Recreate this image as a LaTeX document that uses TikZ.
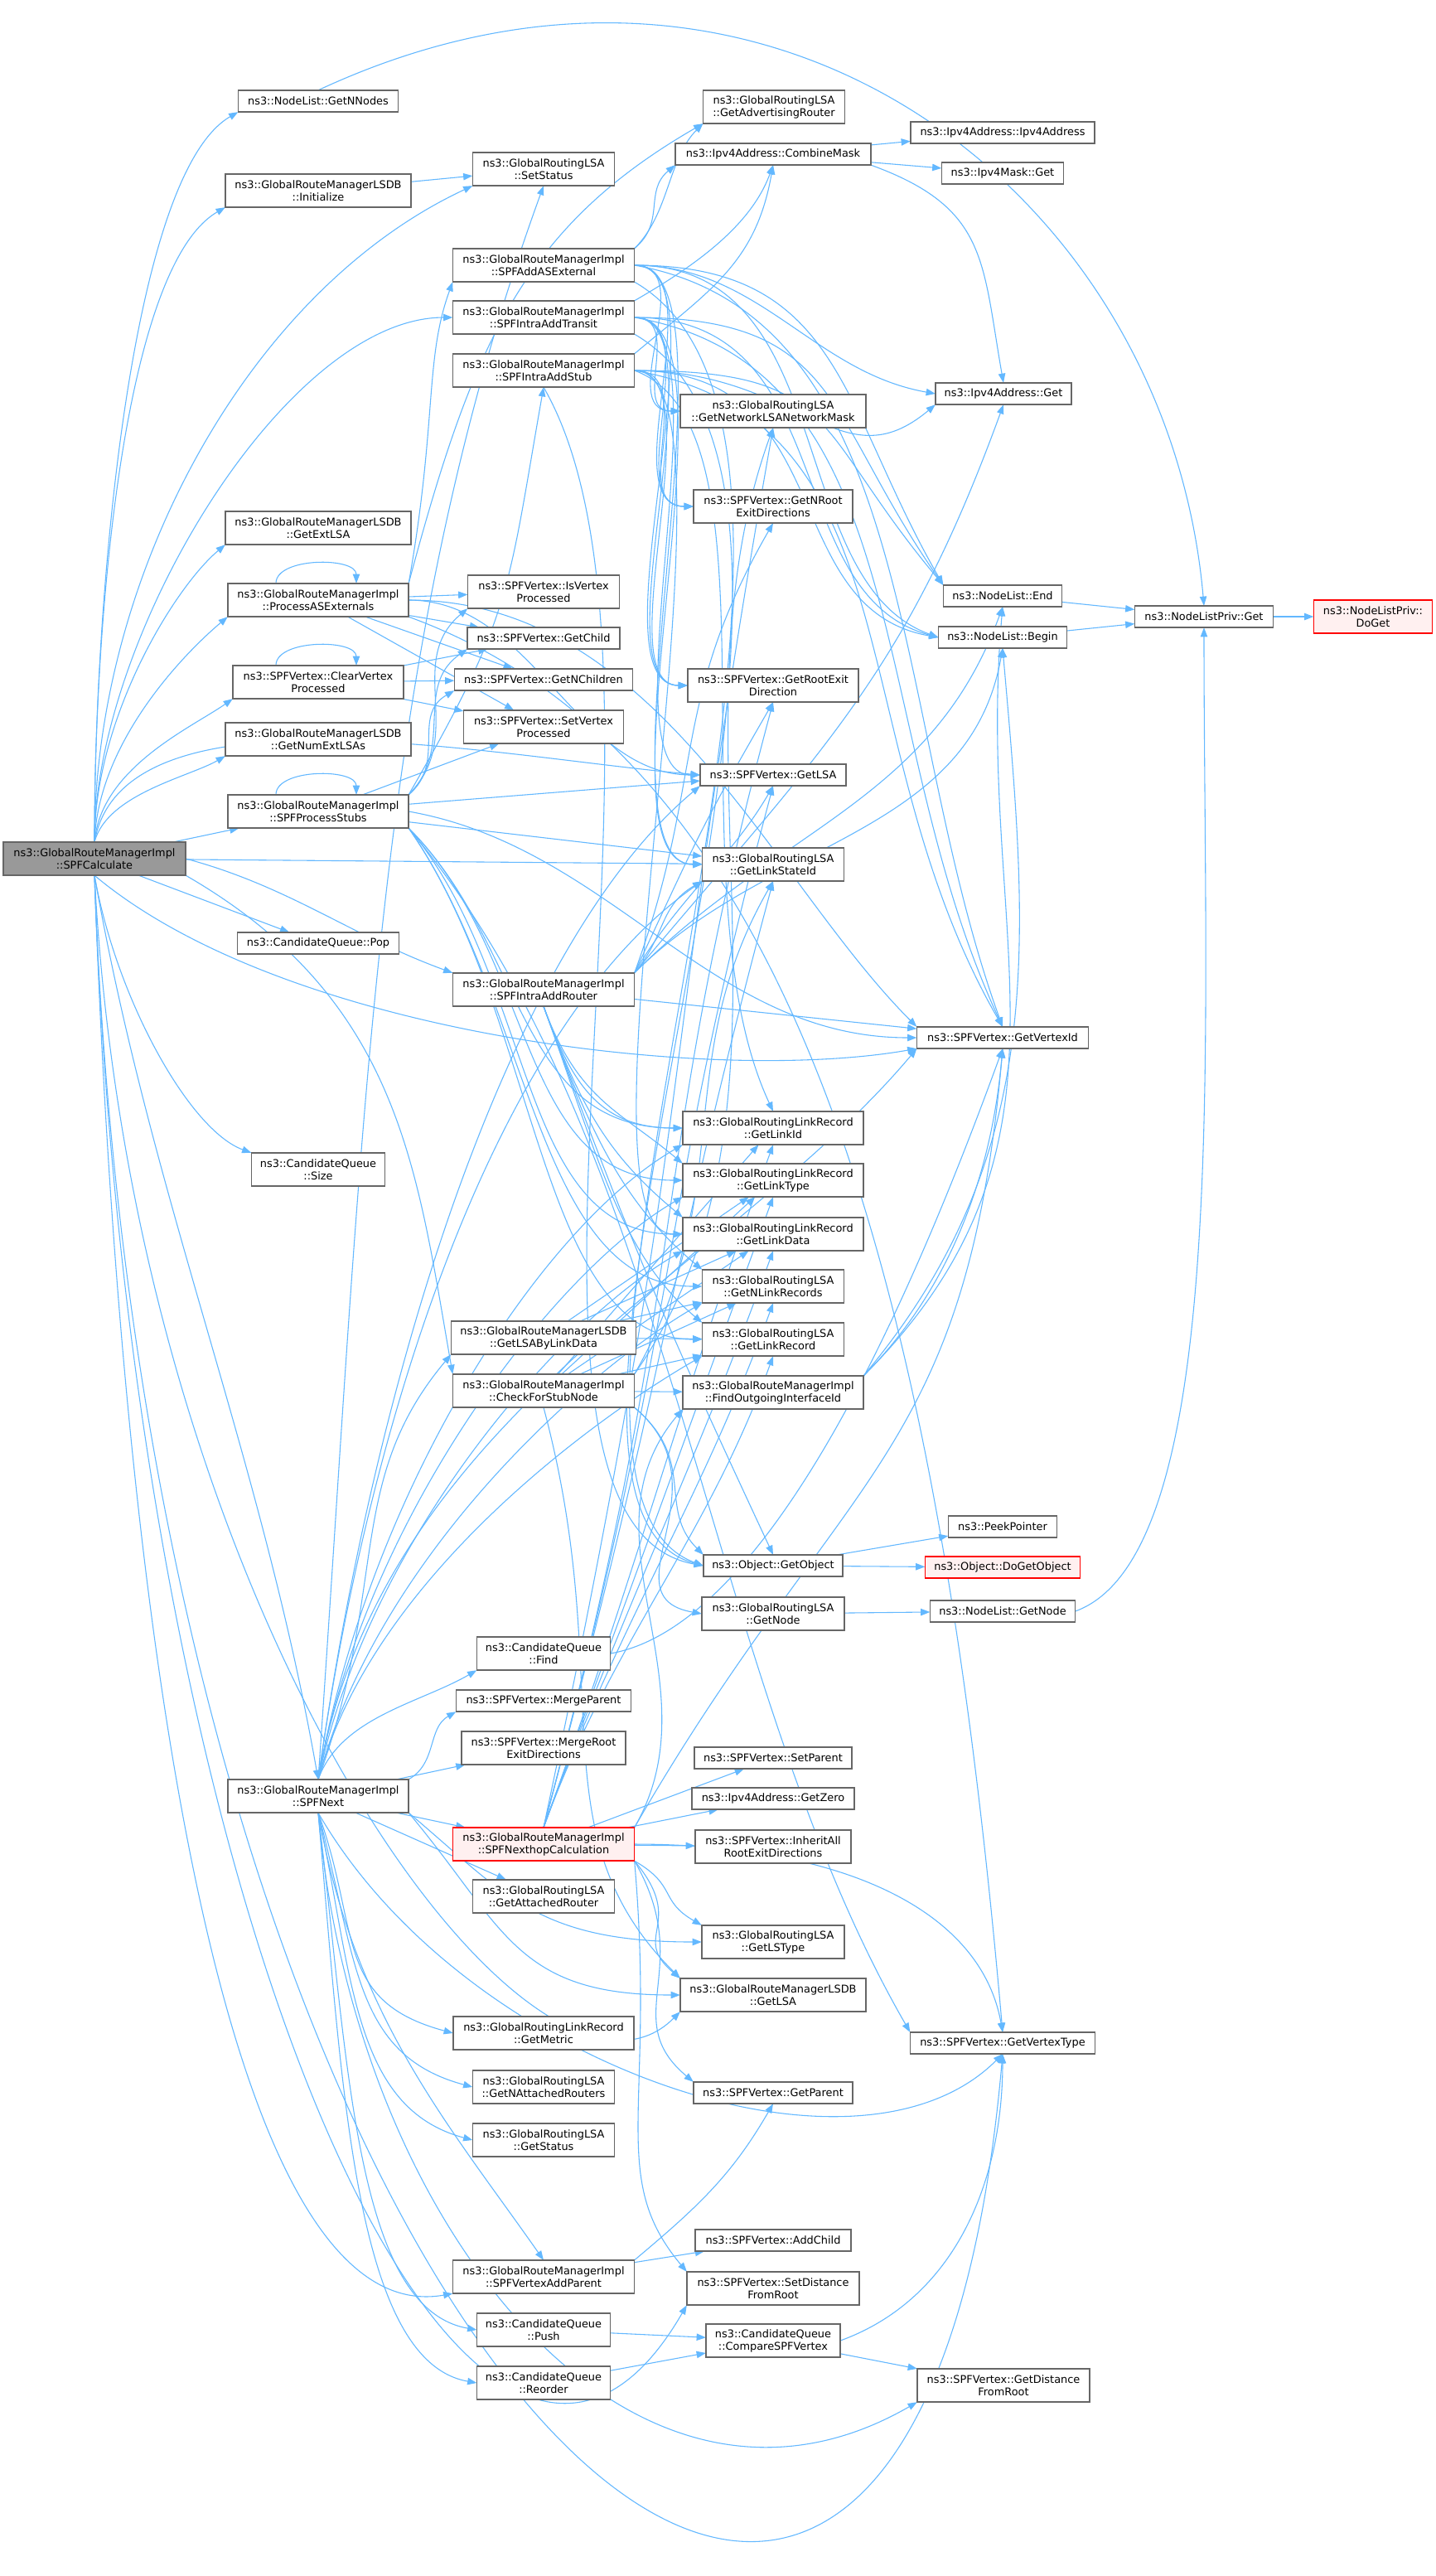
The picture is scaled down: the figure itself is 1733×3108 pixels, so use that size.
\documentclass[tikz,border=0pt]{standalone}
\usepackage{fontspec}
\setmainfont{DejaVu Sans}
\usetikzlibrary{arrows.meta,calc}
\definecolor{edgec}{HTML}{63B8FF}
\definecolor{boxc}{HTML}{666666}
\definecolor{rootgray}{HTML}{999999}
\definecolor{hlred}{HTML}{FF0000}
\definecolor{hlfill}{HTML}{FFF0F0}
\pgfdeclarelayer{bg}
\pgfsetlayers{bg,main}
\newcommand\nfs{\fontsize{12.9pt}{15pt}\selectfont}
\newcommand\cv[4]{\draw[ed] (#1) .. controls ($(#1)+(#2)$) and ($(#3)+(#4)$) .. (#3);}
\newcommand\sloop[1]{\draw[ed] ($(#1.north)+(-51,0)$) .. controls ($(#1.north)+(-51,32)$) and ($(#1.north)+(46,32)$) .. ($(#1.north)+(46,0)$);}
\tikzset{
  box/.style={draw=boxc, fill=white, line width=0.34pt, inner sep=0pt, align=center, font=\nfs, text=black},
  bx1/.style={box, minimum height=26pt},
  bx2/.style={box, minimum height=40pt},
  hl/.style={draw=hlred, fill=hlfill},
  rootn/.style={fill=rootgray, draw=boxc},
  ed/.style={draw=edgec, line width=0.27pt, -{Triangle[length=2.8pt,width=2.1pt]}}
}
\begin{document}
\begin{tikzpicture}[x=1pt,y=1pt,scale=0.25,every node/.style={transform shape}]
\useasboundingbox (0,0) rectangle (1733,-3108);
% column 1
\node[bx2,rootn,minimum width=220pt] (root0) at (114,-1036) {ns3::GlobalRouteManagerImpl\\::SPFCalculate};
% column 2
\node[bx1,minimum width=193pt] (nnodes) at (384,-122) {ns3::NodeList::GetNNodes};
\node[bx2,minimum width=224pt] (init) at (384,-230) {ns3::GlobalRouteManagerLSDB\\::Initialize};
\node[bx2,minimum width=224pt] (extlsa) at (384,-637) {ns3::GlobalRouteManagerLSDB\\::GetExtLSA};
\node[bx2,minimum width=218pt] (procase) at (384,-724) {ns3::GlobalRouteManagerImpl\\::ProcessASExternals};
\node[bx2,minimum width=206pt] (clearvp) at (384,-823) {ns3::SPFVertex::ClearVertex\\Processed};
\node[bx2,minimum width=224pt] (numext) at (384,-892) {ns3::GlobalRouteManagerLSDB\\::GetNumExtLSAs};
\node[bx2,minimum width=218pt] (stubs) at (384,-979) {ns3::GlobalRouteManagerImpl\\::SPFProcessStubs};
\node[bx1,minimum width=195pt] (pop) at (384,-1138) {ns3::CandidateQueue::Pop};
\node[bx2,minimum width=161pt] (size) at (384,-1411) {ns3::CandidateQueue\\::Size};
\node[bx2,minimum width=218pt] (spfnxt) at (384,-2167) {ns3::GlobalRouteManagerImpl\\::SPFNext};
% column 3
\node[bx2,minimum width=171pt] (setstatus) at (656,-204) {ns3::GlobalRoutingLSA\\::SetStatus};
\node[bx2,minimum width=219pt] (addase) at (656,-320) {ns3::GlobalRouteManagerImpl\\::SPFAddASExternal};
\node[bx2,minimum width=219pt] (transit) at (656,-383) {ns3::GlobalRouteManagerImpl\\::SPFIntraAddTransit};
\node[bx2,minimum width=219pt] (stub) at (656,-447) {ns3::GlobalRouteManagerImpl\\::SPFIntraAddStub};
\node[bx2,minimum width=183pt] (isvp) at (656,-714) {ns3::SPFVertex::IsVertex\\Processed};
\node[bx1,minimum width=184pt] (getchild) at (656,-770) {ns3::SPFVertex::GetChild};
\node[bx1,minimum width=215pt] (nchildren) at (656,-820) {ns3::SPFVertex::GetNChildren};
\node[bx2,minimum width=193pt] (setvp) at (656,-877) {ns3::SPFVertex::SetVertex\\Processed};
\node[bx2,minimum width=219pt] (router) at (656,-1194) {ns3::GlobalRouteManagerImpl\\::SPFIntraAddRouter};
\node[bx2,minimum width=223pt] (lsabld) at (656,-1614) {ns3::GlobalRouteManagerLSDB\\::GetLSAByLinkData};
\node[bx2,minimum width=219pt] (checkstub) at (656,-1678) {ns3::GlobalRouteManagerImpl\\::CheckForStubNode};
\node[bx2,minimum width=161pt] (find) at (656,-1995) {ns3::CandidateQueue\\::Find};
\node[bx1,minimum width=211pt] (mergeparent) at (656,-2052) {ns3::SPFVertex::MergeParent};
\node[bx2,minimum width=198pt] (mergeroot) at (656,-2109) {ns3::SPFVertex::MergeRoot\\ExitDirections};
\node[bx2,hl,minimum width=219pt] (nexthop) at (656,-2225) {ns3::GlobalRouteManagerImpl\\::SPFNexthopCalculation};
\node[bx2,minimum width=171pt] (attached) at (656,-2288) {ns3::GlobalRoutingLSA\\::GetAttachedRouter};
\node[bx2,minimum width=218pt] (metric) at (656,-2453) {ns3::GlobalRoutingLinkRecord\\::GetMetric};
\node[bx2,minimum width=171pt] (nattached) at (656,-2518) {ns3::GlobalRoutingLSA\\::GetNAttachedRouters};
\node[bx2,minimum width=171pt] (getstatus) at (656,-2582) {ns3::GlobalRoutingLSA\\::GetStatus};
\node[bx2,minimum width=219pt] (addparent) at (656,-2747) {ns3::GlobalRouteManagerImpl\\::SPFVertexAddParent};
\node[bx2,minimum width=161pt] (push) at (656,-2811) {ns3::CandidateQueue\\::Push};
\node[bx2,minimum width=161pt] (reorder) at (656,-2875) {ns3::CandidateQueue\\::Reorder};
% column 4
\node[bx2,minimum width=171pt] (advrouter) at (934,-129) {ns3::GlobalRoutingLSA\\::GetAdvertisingRouter};
\node[bx1,minimum width=236pt] (combine) at (933,-186) {ns3::Ipv4Address::CombineMask};
\node[bx2,minimum width=224pt] (netmask) at (933,-496) {ns3::GlobalRoutingLSA\\::GetNetworkLSANetworkMask};
\node[bx2,minimum width=192pt] (nroot) at (933,-611) {ns3::SPFVertex::GetNRoot\\ExitDirections};
\node[bx2,minimum width=206pt] (rootexit) at (933,-827) {ns3::SPFVertex::GetRootExit\\Direction};
\node[bx1,minimum width=176pt] (getlsa) at (933,-935) {ns3::SPFVertex::GetLSA};
\node[bx2,minimum width=171pt] (lsid) at (933,-1043) {ns3::GlobalRoutingLSA\\::GetLinkStateId};
\node[bx2,minimum width=218pt] (linkid) at (933,-1361) {ns3::GlobalRoutingLinkRecord\\::GetLinkId};
\node[bx2,minimum width=218pt] (linktype) at (933,-1424) {ns3::GlobalRoutingLinkRecord\\::GetLinkType};
\node[bx2,minimum width=218pt] (linkdata) at (933,-1489) {ns3::GlobalRoutingLinkRecord\\::GetLinkData};
\node[bx2,minimum width=171pt] (nlinkrec) at (933,-1552) {ns3::GlobalRoutingLSA\\::GetNLinkRecords};
\node[bx2,minimum width=171pt] (linkrec) at (933,-1616) {ns3::GlobalRoutingLSA\\::GetLinkRecord};
\node[bx2,minimum width=218pt] (findout) at (933,-1680) {ns3::GlobalRouteManagerImpl\\::FindOutgoingInterfaceId};
\node[bx1,minimum width=168pt] (getobject) at (933,-1889) {ns3::Object::GetObject};
\node[bx2,minimum width=172pt] (lsagetnode) at (933,-1947) {ns3::GlobalRoutingLSA\\::GetNode};
\node[bx1,minimum width=190pt] (setparent) at (933,-2121) {ns3::SPFVertex::SetParent};
\node[bx1,minimum width=196pt] (getzero) at (933,-2170) {ns3::Ipv4Address::GetZero};
\node[bx2,minimum width=188pt] (inherit) at (933,-2228) {ns3::SPFVertex::InheritAll\\RootExitDirections};
\node[bx2,minimum width=172pt] (lstype) at (933,-2343) {ns3::GlobalRoutingLSA\\::GetLSType};
\node[bx2,minimum width=224pt] (lsdbgetlsa) at (933,-2407) {ns3::GlobalRouteManagerLSDB\\::GetLSA};
\node[bx1,minimum width=192pt] (getparent) at (933,-2525) {ns3::SPFVertex::GetParent};
\node[bx1,minimum width=188pt] (addchild) at (933,-2703) {ns3::SPFVertex::AddChild};
\node[bx2,minimum width=208pt] (setdist) at (933,-2761) {ns3::SPFVertex::SetDistance\\FromRoot};
\node[bx2,minimum width=162pt] (compare) at (933,-2824) {ns3::CandidateQueue\\::CompareSPFVertex};
% column 5
\node[bx1,minimum width=222pt] (ipv4addr) at (1210,-160) {ns3::Ipv4Address::Ipv4Address};
\node[bx1,minimum width=147pt] (maskget) at (1210,-209) {ns3::Ipv4Mask::Get};
\node[bx1,minimum width=164pt] (addrget) at (1211,-475) {ns3::Ipv4Address::Get};
\node[bx1,minimum width=143pt] (nlend) at (1210,-719) {ns3::NodeList::End};
\node[bx1,minimum width=155pt] (nlbegin) at (1210,-769) {ns3::NodeList::Begin};
\node[bx1,minimum width=207pt] (vertexid) at (1210,-1252) {ns3::SPFVertex::GetVertexId};
\node[bx1,minimum width=131pt] (peek) at (1210,-1842) {ns3::PeekPointer};
\node[bx1,hl,minimum width=187pt] (dogetobj) at (1210,-1891) {ns3::Object::DoGetObject};
\node[bx1,minimum width=175pt] (nlgetnode) at (1210,-1944) {ns3::NodeList::GetNode};
\node[bx1,minimum width=223pt] (vtype) at (1210,-2465) {ns3::SPFVertex::GetVertexType};
\node[bx2,minimum width=208pt] (getdist) at (1211,-2878) {ns3::SPFVertex::GetDistance\\FromRoot};
% column 6, 7
\node[bx1,minimum width=167pt] (privget) at (1453,-744) {ns3::NodeListPriv::Get};
\node[bx2,hl,minimum width=143pt] (doget) at (1657,-744) {ns3::NodeListPriv::\\DoGet};

\begin{pgfonlayer}{bg}
\fill[white] (0,0) rectangle (1733,-3108);
% SPFCalculate
\cv{root0.north}{90:300}{nnodes.south west}{210:150}
\cv{root0.north}{90:280}{init.south west}{210:140}
\cv{root0.north}{90:320}{setstatus.south west}{205:300}
\cv{root0.north}{90:250}{transit.west}{180:200}
\cv{root0.north}{90:150}{extlsa.south west}{220:80}
\cv{root0.north}{88:120}{procase.south west}{220:70}
\cv{root0.north}{85:90}{clearvp.south west}{215:60}
\cv{root0.north}{75:60}{numext.south west}{210:50}
\draw[ed] (root0) -- (stubs);
\cv{root0.north}{80:200}{getlsa.west}{175:250}
\draw[ed] (root0) -- (lsid);
\cv{root0.east}{-15:130}{router.north west}{160:130}
\draw[ed] (root0) -- (pop);
\cv{root0.south}{-40:300}{vertexid.south west}{190:250}
\cv{root0.south}{-80:150}{size.north west}{160:80}
\cv{root0.south}{-80:400}{spfnxt.north}{100:400}
\cv{root0.south east}{-30:300}{checkstub.north west}{100:250}
\cv{root0.south}{-88:800}{addparent.south west}{190:300}
\cv{root0.south}{-88:1300}{setdist.south west}{240:500}
\cv{root0.south}{-88:1800}{vtype.south}{-95:1250}
\cv{root0.south}{-87:900}{lsdbgetlsa.south west}{225:250}
% Initialize, GetNNodes
\draw[ed] (init) -- (setstatus);
\cv{nnodes.north}{25:600}{privget.north}{95:500}
% ProcessASExternals
\sloop{procase}
\draw[ed] (procase) -- (isvp);
\draw[ed] (procase) -- (getchild);
\draw[ed] (procase) -- (nchildren);
\draw[ed] (procase) -- (setvp);
\cv{procase.north east}{80:200}{addase.south west}{250:100}
\cv{procase.north east}{75:300}{advrouter.south west}{210:250}
\cv{procase.east}{0:150}{getlsa.west}{180:150}
\cv{procase.east}{0:300}{vertexid.north west}{135:250}
\cv{procase.south east}{-20:500}{vtype.north}{95:900}
% ClearVertexProcessed
\sloop{clearvp}
\draw[ed] (clearvp) -- (getchild);
\draw[ed] (clearvp) -- (nchildren);
\draw[ed] (clearvp) -- (setvp);
% SPFProcessStubs
\sloop{stubs}
\cv{stubs.north east}{45:100}{isvp.south west}{220:100}
\cv{stubs.north east}{45:80}{getchild.south west}{215:80}
\cv{stubs.north east}{40:60}{nchildren.south west}{210:60}
\draw[ed] (stubs) -- (setvp);
\draw[ed] (stubs) -- (getlsa);
\draw[ed] (stubs) -- (lsid);
\cv{stubs.north east}{60:250}{stub.south}{-100:250}
\cv{stubs.south east}{-45:200}{linkid.west}{180:200}
\cv{stubs.south east}{-45:220}{linktype.west}{180:200}
\cv{stubs.south east}{-50:240}{linkdata.west}{180:200}
\cv{stubs.south east}{-55:260}{nlinkrec.west}{180:200}
\cv{stubs.south east}{-55:280}{linkrec.west}{180:200}
\cv{stubs.south east}{-50:500}{vtype.north west}{120:500}
\cv{stubs.east}{-10:250}{vertexid.west}{180:250}
% SPFAddASExternal
\cv{addase.north east}{45:60}{advrouter.south west}{225:60}
\cv{addase.north east}{40:50}{combine.south west}{220:50}
\cv{addase.east}{0:80}{netmask.west}{180:80}
\cv{addase.east}{0:100}{nroot.west}{180:100}
\cv{addase.east}{0:120}{rootexit.west}{180:120}
\cv{addase.east}{0:140}{lsid.west}{180:140}
\cv{addase.east}{0:250}{nlend.north west}{120:250}
\cv{addase.east}{0:250}{nlbegin.west}{160:200}
\cv{addase.east}{-10:350}{vertexid.north}{110:400}
\cv{addase.south east}{-30:400}{getobject.west}{160:300}
\cv{addase.east}{0:150}{addrget.west}{170:150}
% SPFIntraAddTransit
\cv{transit.north east}{30:80}{combine.south}{-110:80}
\cv{transit.east}{0:60}{netmask.west}{180:60}
\cv{transit.east}{0:90}{nroot.west}{180:90}
\cv{transit.east}{0:110}{rootexit.west}{180:110}
\cv{transit.east}{0:140}{lsid.west}{180:140}
\cv{transit.east}{0:120}{getlsa.west}{180:120}
\cv{transit.east}{0:250}{nlend.north west}{125:250}
\cv{transit.east}{0:250}{nlbegin.west}{165:200}
\cv{transit.east}{-10:350}{vertexid.north}{115:400}
\cv{transit.south east}{-30:400}{getobject.west}{165:300}
% SPFIntraAddStub
\cv{stub.north east}{40:120}{combine.south}{-100:120}
\cv{stub.east}{0:80}{nroot.west}{180:80}
\cv{stub.east}{0:100}{rootexit.west}{180:100}
\cv{stub.east}{0:150}{linkdata.west}{180:150}
\cv{stub.east}{-20:200}{linkid.north}{115:300}
\cv{stub.east}{0:250}{nlend.north west}{130:250}
\cv{stub.east}{0:250}{nlbegin.west}{170:200}
\cv{stub.east}{-10:350}{vertexid.north}{120:400}
\cv{stub.south}{-60:400}{getobject.west}{170:300}
\cv{stub.east}{0:200}{addrget.south west}{220:150}
% SPFIntraAddRouter
\cv{router.north east}{45:250}{nlend.south}{-110:250}
\cv{router.north east}{45:230}{nlbegin.south}{-100:230}
\cv{router.south}{-70:300}{getobject.north}{115:300}
\draw[ed] (router) -- (vertexid);
\cv{router.north east}{60:100}{getlsa.south}{-120:100}
\cv{router.north east}{50:60}{lsid.south west}{-150:60}
\cv{router.north east}{70:250}{nroot.south}{-120:250}
\cv{router.north east}{65:180}{rootexit.south}{-120:180}
\cv{router.north east}{50:350}{addrget.south}{-110:350}
\cv{router.south}{-70:100}{linkid.west}{180:100}
\cv{router.south}{-70:120}{linktype.north west}{140:100}
\cv{router.south}{-70:140}{linkdata.north west}{140:110}
\cv{router.south}{-70:170}{nlinkrec.north west}{140:120}
\cv{router.south}{-70:190}{linkrec.north west}{140:130}
% GetLSAByLinkData
\draw[ed] (lsabld) -- (nlinkrec);
\draw[ed] (lsabld) -- (linkrec);
\draw[ed] (lsabld) -- (linktype);
\draw[ed] (lsabld) -- (linkdata);
% CheckForStubNode
\cv{checkstub.south}{-75:350}{lsdbgetlsa.north west}{135:250}
\cv{checkstub.north east}{60:250}{lsid.south}{-120:250}
\draw[ed] (checkstub) -- (nlinkrec);
\draw[ed] (checkstub) -- (linkrec);
\draw[ed] (checkstub) -- (linktype);
\draw[ed] (checkstub) -- (linkid);
\draw[ed] (checkstub) -- (linkdata);
\draw[ed] (checkstub) -- (findout);
\cv{checkstub.south east}{-40:150}{lsagetnode.west}{170:120}
\cv{checkstub.south east}{-40:100}{getobject.north west}{135:80}
\cv{checkstub.north east}{55:400}{netmask.south}{-110:400}
% CandidateQueue::Find
\cv{find.east}{10:200}{vertexid.south}{-110:300}
% SPFNext
\cv{spfnxt.north}{86:800}{setstatus.south}{-110:600}
\cv{spfnxt.north}{82:500}{getlsa.south west}{-140:300}
\cv{spfnxt.north}{82:450}{lsid.south west}{-145:300}
\cv{spfnxt.north}{80:450}{vertexid.south west}{-130:350}
\cv{spfnxt.north}{80:350}{linkid.south west}{-150:200}
\cv{spfnxt.north}{80:320}{linktype.south west}{-150:180}
\cv{spfnxt.north}{78:300}{linkdata.south west}{-150:170}
\cv{spfnxt.north}{75:280}{nlinkrec.south west}{-150:160}
\cv{spfnxt.north}{75:250}{linkrec.south west}{-150:150}
\cv{spfnxt.north}{70:250}{lsabld.south west}{-130:200}
\cv{spfnxt.north}{70:80}{find.south west}{210:80}
\cv{spfnxt.north east}{30:40}{mergeparent.south west}{210:40}
\draw[ed] (spfnxt) -- (mergeroot);
\draw[ed] (spfnxt) -- (nexthop);
\draw[ed] (spfnxt) -- (attached);
\cv{spfnxt.south}{-70:150}{metric.west}{165:150}
\cv{spfnxt.south}{-75:180}{nattached.west}{165:150}
\cv{spfnxt.south}{-78:200}{getstatus.west}{165:150}
\cv{spfnxt.south}{-80:250}{addparent.north}{125:200}
\cv{spfnxt.south}{-83:300}{push.west}{170:150}
\cv{spfnxt.south}{-85:330}{reorder.west}{170:150}
\cv{spfnxt.south}{-85:500}{getdist.south west}{-150:400}
\cv{spfnxt.south east}{-40:150}{lstype.west}{180:200}
\cv{spfnxt.south east}{-50:180}{lsdbgetlsa.west}{180:200}
\cv{spfnxt.south}{-60:350}{vtype.south}{-135:250}
% SPFNexthopCalculation
\draw[ed] (nexthop) -- (setparent);
\draw[ed] (nexthop) -- (getzero);
\draw[ed] (nexthop) -- (inherit);
\cv{nexthop.south east}{-30:60}{lstype.north west}{150:60}
\cv{nexthop.south east}{-50:100}{lsdbgetlsa.north west}{140:80}
\cv{nexthop.south east}{-60:150}{getparent.north west}{140:120}
\cv{nexthop.east}{0:250}{vtype.north}{100:150}
\cv{nexthop.south east}{-85:300}{setdist.north west}{130:150}
\cv{nexthop.north east}{60:500}{vertexid.south}{-95:500}
\cv{nexthop.north}{75:600}{lsid.south}{-105:500}
\cv{nexthop.north}{75:650}{getlsa.south}{-105:550}
\cv{nexthop.north}{75:700}{rootexit.south}{-105:600}
\cv{nexthop.north}{78:900}{netmask.south}{-100:800}
\cv{nexthop.north east}{60:200}{findout.south west}{-130:200}
\cv{nexthop.north}{70:290}{linkdata.south}{-110:290}
\cv{nexthop.north}{70:240}{linkrec.south}{-110:240}
\cv{nexthop.north}{70:260}{nlinkrec.south}{-110:260}
\cv{nexthop.north}{70:330}{linkid.south}{-110:330}
\cv{nexthop.north}{70:310}{linktype.south}{-110:310}
% FindOutgoingInterfaceId
\cv{findout.north east}{45:400}{nlend.south}{-95:400}
\cv{findout.north east}{50:350}{nlbegin.south}{-85:350}
\cv{findout.north east}{45:150}{vertexid.south}{-95:150}
% misc
\draw[ed] (combine) -- (ipv4addr);
\draw[ed] (combine) -- (maskget);
\cv{combine.south east}{-20:150}{addrget.north}{100:150}
\draw[ed] (getobject) -- (peek);
\draw[ed] (getobject) -- (dogetobj);
\draw[ed] (lsagetnode) -- (nlgetnode);
\cv{nlgetnode.east}{20:200}{privget.south}{-90:500}
\draw[ed] (nlend) -- (privget);
\draw[ed] (nlbegin) -- (privget);
\draw[ed] (privget) -- (doget);
\draw[ed] (push) -- (compare);
\draw[ed] (reorder) -- (compare);
\cv{compare.east}{20:150}{vtype.south}{-90:150}
\draw[ed] (compare) -- (getdist);
\cv{addparent.north east}{40:100}{getparent.south}{-120:100}
\draw[ed] (addparent) -- (addchild);
\end{pgfonlayer}
\end{tikzpicture}
\end{document}
